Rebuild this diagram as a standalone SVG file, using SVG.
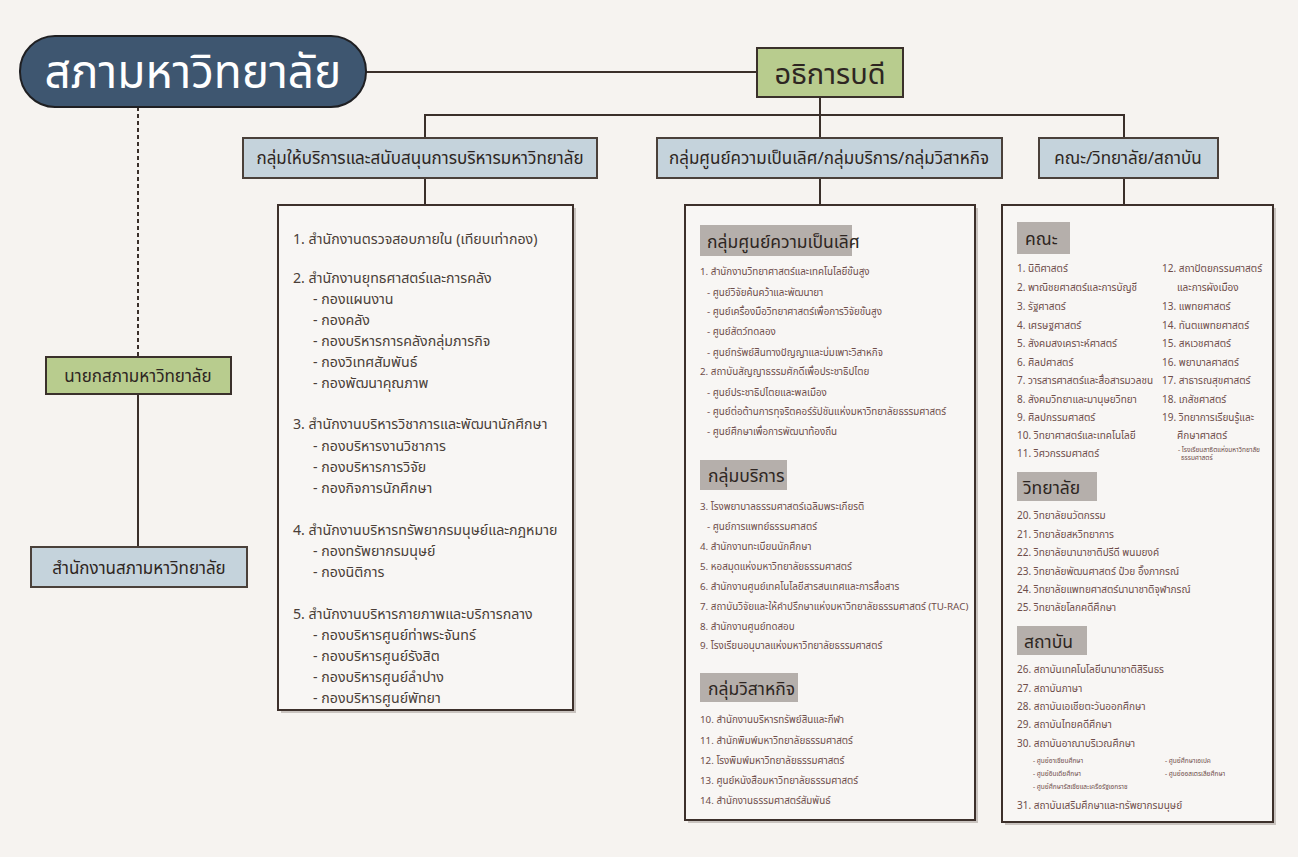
<svg xmlns="http://www.w3.org/2000/svg" width="1298" height="857" viewBox="0 0 1298 857">
<style>
text{font-family:"Noto Sans Thai","Noto Sans","DejaVu Sans",sans-serif}
.ln{stroke:#3a2f2a;stroke-width:2;fill:none}
.green{fill:#b8cc8e;stroke:#3a302b;stroke-width:2}
.blue{fill:#c5d3dc;stroke:#4a403a;stroke-width:2}
.big{fill:#f8f6f4;stroke:#3d302b;stroke-width:2}
.shadow{fill:#c9c3bf}
.gh{fill:#b5afab}
.hd{font-size:17px;fill:#2e2622;text-anchor:middle}
.gt{font-size:17.5px;fill:#2e2622}
.lt{font-size:14.2px;fill:#4a3e38}
.mt{font-size:9.8px;fill:#6e4d4a}
.rt{font-size:10px;fill:#6e4d4a}
.st{font-size:6.5px;fill:#6e4d4a}
</style>
<rect width="1298" height="857" fill="#f6f3f0"/>
<g id="connectors">
<line class="ln" x1="366" y1="72" x2="757" y2="72"/>
<line class="ln" x1="820" y1="97" x2="820" y2="138"/>
<polyline class="ln" points="425,138 425,115 1124,115 1124,138"/>
<line class="ln" x1="425" y1="178" x2="425" y2="205"/>
<line class="ln" x1="820" y1="178" x2="820" y2="205"/>
<line class="ln" x1="1124" y1="178" x2="1124" y2="205"/>
<line class="ln" x1="138" y1="107" x2="138" y2="357" stroke-dasharray="4,3"/>
<line class="ln" x1="138" y1="394" x2="138" y2="547"/>
</g>
<g id="council">
<rect x="20" y="36" width="346" height="71" rx="35" fill="#3e5670" stroke="#1f1f22" stroke-width="2"/>
<text x="193" y="88" font-size="46" fill="#ffffff" text-anchor="middle">สภามหาวิทยาลัย</text>
</g>
<g id="president">
<rect class="green" x="757" y="48" width="146" height="49"/>
<text x="830" y="84" font-size="29" fill="#2e2622" text-anchor="middle">อธิการบดี</text>
</g>
<g id="council-chair">
<rect class="green" x="46" y="357" width="185" height="37"/>
<text x="138" y="382" class="hd">นายกสภามหาวิทยาลัย</text>
</g>
<g id="council-office">
<rect class="blue" x="31" y="547" width="216" height="40"/>
<text x="139" y="574" class="hd">สำนักงานสภามหาวิทยาลัย</text>
</g>
<g id="group-admin">
<rect class="blue" x="243" y="138" width="354" height="40"/>
<text x="420" y="164" class="hd">กลุ่มให้บริการและสนับสนุนการบริหารมหาวิทยาลัย</text>
</g>
<g id="group-excellence">
<rect class="blue" x="657" y="138" width="345" height="40"/>
<text x="829" y="164" class="hd">กลุ่มศูนย์ความเป็นเลิศ/กลุ่มบริการ/กลุ่มวิสาหกิจ</text>
</g>
<g id="group-faculty">
<rect class="blue" x="1039" y="138" width="179" height="40"/>
<text x="1128" y="164" class="hd">คณะ/วิทยาลัย/สถาบัน</text>
</g>
<g id="admin-list">
<rect class="shadow" x="281" y="208" width="295" height="505"/>
<rect class="big" x="278" y="205" width="295" height="505"/>
<g class="lt">
<text x="293" y="244">1. สำนักงานตรวจสอบภายใน (เทียบเท่ากอง)</text>
<text x="293" y="283">2. สำนักงานยุทธศาสตร์และการคลัง</text>
<text x="313" y="304">- กองแผนงาน</text>
<text x="313" y="325">- กองคลัง</text>
<text x="313" y="346">- กองบริหารการคลังกลุ่มภารกิจ</text>
<text x="313" y="367">- กองวิเทศสัมพันธ์</text>
<text x="313" y="388">- กองพัฒนาคุณภาพ</text>
<text x="293" y="429">3. สำนักงานบริหารวิชาการและพัฒนานักศึกษา</text>
<text x="313" y="451">- กองบริหารงานวิชาการ</text>
<text x="313" y="472">- กองบริหารการวิจัย</text>
<text x="313" y="493">- กองกิจการนักศึกษา</text>
<text x="293" y="535">4. สำนักงานบริหารทรัพยากรมนุษย์และกฎหมาย</text>
<text x="313" y="556">- กองทรัพยากรมนุษย์</text>
<text x="313" y="577">- กองนิติการ</text>
<text x="293" y="619">5. สำนักงานบริหารกายภาพและบริการกลาง</text>
<text x="313" y="640">- กองบริหารศูนย์ท่าพระจันทร์</text>
<text x="313" y="661">- กองบริหารศูนย์รังสิต</text>
<text x="313" y="682">- กองบริหารศูนย์ลำปาง</text>
<text x="313" y="703">- กองบริหารศูนย์พัทยา</text>
</g>
</g>
<g id="excellence-list">
<rect class="shadow" x="688" y="208" width="290" height="615"/>
<rect class="big" x="685" y="205" width="290" height="615"/>
<rect class="gh" x="700" y="225" width="152" height="31"/>
<text x="707" y="248" class="gt">กลุ่มศูนย์ความเป็นเลิศ</text>
<g class="mt">
<text x="700" y="275">1. สำนักงานวิทยาศาสตร์และเทคโนโลยีขั้นสูง</text>
<text x="707" y="296">- ศูนย์วิจัยค้นคว้าและพัฒนายา</text>
<text x="707" y="315">- ศูนย์เครื่องมือวิทยาศาสตร์เพื่อการวิจัยขั้นสูง</text>
<text x="707" y="335">- ศูนย์สัตว์ทดลอง</text>
<text x="707" y="356">- ศูนย์ทรัพย์สินทางปัญญาและบ่มเพาะวิสาหกิจ</text>
<text x="700" y="375">2. สถาบันสัญญาธรรมศักดิ์เพื่อประชาธิปไตย</text>
<text x="707" y="396">- ศูนย์ประชาธิปไตยและพลเมือง</text>
<text x="707" y="415">- ศูนย์ต่อต้านการทุจริตคอร์รัปชันแห่งมหาวิทยาลัยธรรมศาสตร์</text>
<text x="707" y="435">- ศูนย์ศึกษาเพื่อการพัฒนาท้องถิ่น</text>
</g>
<rect class="gh" x="700" y="460" width="87" height="30"/>
<text x="708" y="482" class="gt">กลุ่มบริการ</text>
<g class="mt">
<text x="700" y="510">3. โรงพยาบาลธรรมศาสตร์เฉลิมพระเกียรติ</text>
<text x="707" y="530">- ศูนย์การแพทย์ธรรมศาสตร์</text>
<text x="700" y="550">4. สำนักงานทะเบียนนักศึกษา</text>
<text x="700" y="570">5. หอสมุดแห่งมหาวิทยาลัยธรรมศาสตร์</text>
<text x="700" y="590">6. สำนักงานศูนย์เทคโนโลยีสารสนเทศและการสื่อสาร</text>
<text x="700" y="610">7. สถาบันวิจัยและให้คำปรึกษาแห่งมหาวิทยาลัยธรรมศาสตร์ (TU-RAC)</text>
<text x="700" y="630">8. สำนักงานศูนย์ทดสอบ</text>
<text x="700" y="649">9. โรงเรียนอนุบาลแห่งมหาวิทยาลัยธรรมศาสตร์</text>
</g>
<rect class="gh" x="700" y="673" width="98" height="29"/>
<text x="708" y="695" class="gt">กลุ่มวิสาหกิจ</text>
<g class="mt">
<text x="700" y="723">10. สำนักงานบริหารทรัพย์สินและกีฬา</text>
<text x="700" y="744">11. สำนักพิมพ์มหาวิทยาลัยธรรมศาสตร์</text>
<text x="700" y="764">12. โรงพิมพ์มหาวิทยาลัยธรรมศาสตร์</text>
<text x="700" y="784">13. ศูนย์หนังสือมหาวิทยาลัยธรรมศาสตร์</text>
<text x="700" y="804">14. สำนักงานธรรมศาสตร์สัมพันธ์</text>
</g>
</g>
<g id="faculty-list">
<rect class="shadow" x="1005" y="208" width="271" height="617"/>
<rect class="big" x="1002" y="205" width="271" height="617"/>
<rect class="gh" x="1017" y="222" width="53" height="32"/>
<text x="1025" y="245" class="gt">คณะ</text>
<g class="rt">
<text x="1017" y="272">1. นิติศาสตร์</text>
<text x="1017" y="291">2. พาณิชยศาสตร์และการบัญชี</text>
<text x="1017" y="310">3. รัฐศาสตร์</text>
<text x="1017" y="329">4. เศรษฐศาสตร์</text>
<text x="1017" y="347">5. สังคมสงเคราะห์ศาสตร์</text>
<text x="1017" y="366">6. ศิลปศาสตร์</text>
<text x="1017" y="384">7. วารสารศาสตร์และสื่อสารมวลชน</text>
<text x="1017" y="403">8. สังคมวิทยาและมานุษยวิทยา</text>
<text x="1017" y="421">9. ศิลปกรรมศาสตร์</text>
<text x="1017" y="439">10. วิทยาศาสตร์และเทคโนโลยี</text>
<text x="1017" y="457">11. วิศวกรรมศาสตร์</text>
<text x="1162" y="272">12. สถาปัตยกรรมศาสตร์</text>
<text x="1177" y="291">และการผังเมือง</text>
<text x="1162" y="310">13. แพทยศาสตร์</text>
<text x="1162" y="329">14. ทันตแพทยศาสตร์</text>
<text x="1162" y="347">15. สหเวชศาสตร์</text>
<text x="1162" y="366">16. พยาบาลศาสตร์</text>
<text x="1162" y="384">17. สาธารณสุขศาสตร์</text>
<text x="1162" y="403">18. เภสัชศาสตร์</text>
<text x="1162" y="421">19. วิทยาการเรียนรู้และ</text>
<text x="1177" y="439">ศึกษาศาสตร์</text>
</g>
<text x="1178" y="452" class="st">- โรงเรียนสาธิตแห่งมหาวิทยาลัย</text>
<text x="1181" y="460" class="st">ธรรมศาสตร์</text>
<rect class="gh" x="1017" y="472" width="80" height="29"/>
<text x="1023" y="494" class="gt">วิทยาลัย</text>
<g class="rt">
<text x="1017" y="519">20. วิทยาลัยนวัตกรรม</text>
<text x="1017" y="538">21. วิทยาลัยสหวิทยาการ</text>
<text x="1017" y="556">22. วิทยาลัยนานาชาติปรีดี พนมยงค์</text>
<text x="1017" y="575">23. วิทยาลัยพัฒนศาสตร์ ป๋วย อึ๊งภากรณ์</text>
<text x="1017" y="593">24. วิทยาลัยแพทยศาสตร์นานาชาติจุฬาภรณ์</text>
<text x="1017" y="611">25. วิทยาลัยโลกคดีศึกษา</text>
</g>
<rect class="gh" x="1017" y="626" width="70" height="29"/>
<text x="1024" y="648" class="gt">สถาบัน</text>
<g class="rt">
<text x="1017" y="673">26. สถาบันเทคโนโลยีนานาชาติสิรินธร</text>
<text x="1017" y="692">27. สถาบันภาษา</text>
<text x="1017" y="710">28. สถาบันเอเชียตะวันออกศึกษา</text>
<text x="1017" y="728">29. สถาบันไทยคดีศึกษา</text>
<text x="1017" y="747">30. สถาบันอาณาบริเวณศึกษา</text>
<text x="1017" y="809">31. สถาบันเสริมศึกษาและทรัพยากรมนุษย์</text>
</g>
<g class="st">
<text x="1033" y="763">- ศูนย์อาเซียนศึกษา</text>
<text x="1033" y="776">- ศูนย์อินเดียศึกษา</text>
<text x="1033" y="789">- ศูนย์ศึกษารัสเซียและเครือรัฐเอกราช</text>
<text x="1165" y="763">- ศูนย์ศึกษาเอเปค</text>
<text x="1165" y="776">- ศูนย์ออสเตรเลียศึกษา</text>
</g>
</g>
</svg>
